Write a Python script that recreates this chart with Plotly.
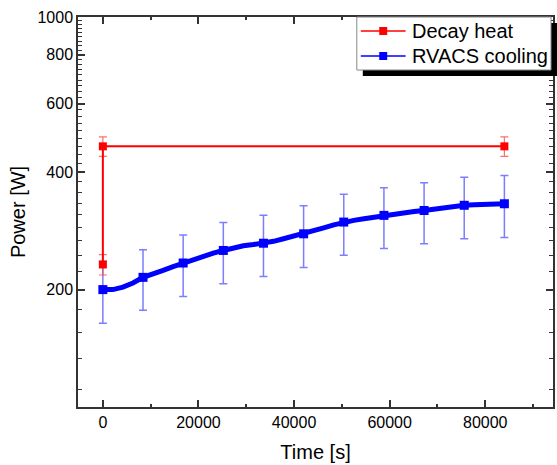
import plotly.graph_objects as go

# ---------------- data ----------------
decay_t = [0, 0, 84000]
decay_p = [232, 466, 466]
decay_err = [14, 27, 27]

rvacs_line_t = [0, 2100, 4200, 6300, 8400, 10500, 12600, 14700, 16800, 18900,
                21000, 23100, 25200, 27300, 29400, 31500, 33600, 35700, 37800, 39900,
                42000, 44100, 46200, 48300, 50400, 52500, 54600, 56700, 58800, 60900,
                63000, 65100, 67200, 69300, 71400, 73500, 75600, 77700, 79800, 81900, 84000]
rvacs_line_p = [200, 200, 203, 208, 215, 219, 224, 229, 234, 239,
                243, 248, 252, 256, 259, 261, 263, 266, 270, 274,
                278, 283, 288, 293, 298, 301, 304, 307, 310, 312,
                315, 317, 319, 322, 325, 327, 329, 330, 331, 331, 332]

rvacs_mark_t = [0, 8400, 16800, 25200, 33600, 42000, 50400, 58800, 67200, 75600, 84000]
rvacs_mark_p = [200, 215, 234, 252, 263, 278, 298, 310, 319, 329, 332]
rvacs_err = [36, 38, 42, 45, 47, 50, 53, 55, 57, 59, 60]

series_names = ["Decay heat", "RVACS cooling"]

y_major = [200, 400, 600, 800, 1000]
y_minor = [k * 200 / 9 for k in range(5, 46) if k % 9 != 0]
x_major = [0, 20000, 40000, 60000, 80000]

FONT = "Arial, Liberation Sans, sans-serif"
RED = "#ff0000"
BLUE = "#0000ff"
TXT = "#000000"

fig = go.Figure()

# blue curve
fig.add_trace(go.Scatter(x=rvacs_line_t, y=rvacs_line_p, mode="lines",
                         line=dict(color=BLUE, width=5), showlegend=False,
                         hoverinfo="skip"))
# blue markers with error bars
fig.add_trace(go.Scatter(x=rvacs_mark_t, y=rvacs_mark_p, mode="markers",
                         name=series_names[1],
                         marker=dict(symbol="square", size=9, color=BLUE),
                         error_y=dict(type="data", array=rvacs_err, visible=True,
                                      color="rgba(70,70,255,0.7)", thickness=1.5, width=4),
                         showlegend=False))
# red series
fig.add_trace(go.Scatter(x=decay_t, y=decay_p, mode="lines+markers",
                         name=series_names[0],
                         line=dict(color=RED, width=2),
                         marker=dict(symbol="square", size=8, color=RED),
                         error_y=dict(type="data", array=decay_err, visible=True,
                                      color="rgba(255,60,60,0.75)", thickness=1.2, width=4),
                         showlegend=False))

L, R, T, B = 78, 2, 17, 58
W, H = 557, 465
pw, ph = W - L - R, H - T - B

def px(xp):
    return (xp - L) / pw

def py(yp):
    return 1 - (yp - T) / ph

# ---------------- Origin-style legend ----------------
shapes = []
shapes.append(dict(type="rect", xref="paper", yref="paper",
                   x0=px(364), x1=px(565), y0=py(76), y1=py(23),
                   fillcolor="black", line=dict(width=0), layer="above"))
shapes.append(dict(type="rect", xref="paper", yref="paper",
                   x0=px(358), x1=px(553), y0=py(70), y1=py(17),
                   fillcolor="white", line=dict(color="#888888", width=1), layer="above"))
annotations = []
for name, col, yc in [(series_names[0], RED, 31), (series_names[1], BLUE, 56)]:
    shapes.append(dict(type="line", xref="paper", yref="paper",
                       x0=px(362), x1=px(407), y0=py(yc), y1=py(yc),
                       line=dict(color=col, width=1.5), layer="above"))
    shapes.append(dict(type="rect", xref="paper", yref="paper",
                       x0=px(380.5), x1=px(388.5), y0=py(yc + 4), y1=py(yc - 4),
                       fillcolor=col, line=dict(width=0), layer="above"))
    annotations.append(dict(text=name, xref="paper", yref="paper",
                            x=px(411), y=py(yc), xanchor="left", yanchor="middle",
                            showarrow=False,
                            font=dict(family=FONT, size=20, color=TXT)))

axis_common = dict(showline=True, linecolor="#333333", linewidth=1.5, mirror="ticks",
                   ticks="inside", tickcolor="#333333", tickwidth=1.5, ticklen=7,
                   showgrid=False, zeroline=False,
                   tickfont=dict(family=FONT, size=16, color=TXT))

fig.update_xaxes(range=[-5200, 94170], tickmode="array",
                 tickvals=x_major, ticktext=[str(v) for v in x_major],
                 minor=dict(dtick=10000, tick0=0, ticks="inside", ticklen=3,
                            tickcolor="#333333", tickwidth=1.5),
                 title=dict(text="Time [s]", font=dict(family=FONT, size=20, color=TXT),
                            standoff=15),
                 **axis_common)
fig.update_yaxes(type="log", range=[2, 3], tickmode="array",
                 tickvals=y_major, ticktext=[str(v) for v in y_major],
                 minor=dict(tickmode="array", tickvals=y_minor, ticks="inside", ticklen=4,
                            tickcolor="#333333", tickwidth=1.2),
                 title=dict(text="Power [W]", font=dict(family=FONT, size=20, color=TXT),
                            standoff=6),
                 **axis_common)

fig.update_layout(
    width=W, height=H,
    margin=dict(l=L, r=R, t=T, b=B, pad=0),
    paper_bgcolor="white", plot_bgcolor="white",
    font=dict(family=FONT, color=TXT),
    showlegend=False,
    shapes=shapes, annotations=annotations,
)

fig.write_html("out.html")
